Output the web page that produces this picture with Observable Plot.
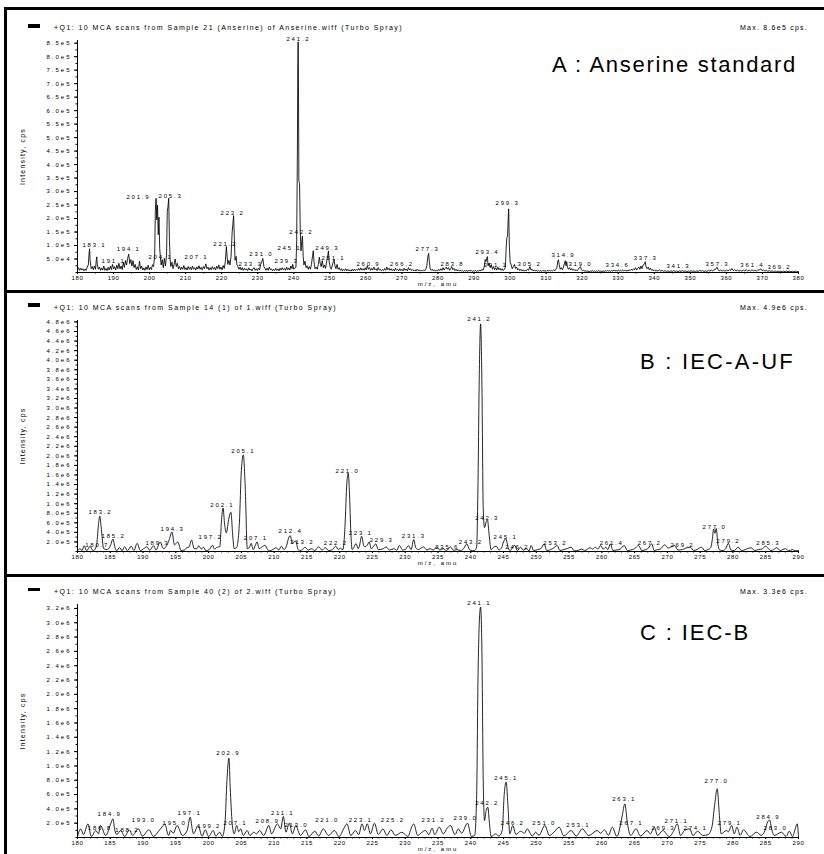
<!DOCTYPE html>
<html>
<head>
<meta charset="utf-8">
<script src="https://cdn.jsdelivr.net/npm/d3@7"></script>
<script src="https://cdn.jsdelivr.net/npm/@observablehq/plot@0.6"></script>
<style>
body{margin:0;background:#fff;}
#wrap{position:relative;width:824px;height:854px;overflow:hidden;font-family:"Liberation Sans",Arial,sans-serif;color:#000;}
.bar{position:absolute;background:#000;}
.hdr{position:absolute;font-size:7px;white-space:nowrap;line-height:7px;}
.max{position:absolute;font-size:7px;white-space:nowrap;line-height:7px;}
.title{position:absolute;font-size:22px;white-space:nowrap;line-height:22px;}
.leg{position:absolute;left:28px;width:12px;height:4px;background:#000;}
.plot{position:absolute;left:0;}
.plot svg g[aria-label="text"] text{letter-spacing:1.8px;}
.plot svg g[aria-description="ylab"] text{letter-spacing:1.2px;}
.plot svg g[aria-description="xlab"] text{letter-spacing:2px;}
.plot svg g[aria-label="y-axis tick label"] text{letter-spacing:2px;}
.plot svg g[aria-label="x-axis tick label"] text{letter-spacing:0.6px;}
</style>
</head>
<body>
<div id="wrap">
  <div class="bar" style="left:4px;top:7px;width:820px;height:3px"></div>
  <div class="bar" style="left:4px;top:7px;width:3px;height:847px"></div>
  <div class="bar" style="left:4px;top:290px;width:820px;height:3px"></div>
  <div class="bar" style="left:4px;top:574px;width:820px;height:3px"></div>

  <div class="leg" style="top:24px"></div>
  <div class="hdr" data-w="349" style="left:54px;top:23.5px">+Q1: 10 MCA scans from Sample 21 (Anserine) of Anserine.wiff (Turbo Spray)</div>
  <div class="max" data-w="68" data-r="808" style="top:23.5px">Max. 8.6e5 cps.</div>
  <div class="title" data-w="245" style="left:552px;top:54px">A : Anserine standard</div>

  <div class="leg" style="top:303px"></div>
  <div class="hdr" data-w="283" style="left:54px;top:303.5px">+Q1: 10 MCA scans from Sample 14 (1) of 1.wiff (Turbo Spray)</div>
  <div class="max" data-w="68" data-r="808" style="top:303.5px">Max. 4.9e6 cps.</div>
  <div class="title" data-w="155" style="left:640px;top:351px">B : IEC-A-UF</div>

  <div class="leg" style="top:588px;height:3px"></div>
  <div class="hdr" data-w="283" style="left:54px;top:587.5px">+Q1: 10 MCA scans from Sample 40 (2) of 2.wiff (Turbo Spray)</div>
  <div class="max" data-w="68" data-r="808" style="top:587.5px">Max. 3.3e6 cps.</div>
  <div class="title" data-w="110" style="left:640px;top:622px">C : IEC-B</div>

  <div class="plot" id="pA" style="top:30px"></div>
  <div class="plot" id="pB" style="top:310px"></div>
  <div class="plot" id="pC" style="top:594px"></div>
</div>
<script>
// ---------- DATA (intensity in thousands of cps) ----------
const xTicksA = [180,190,200,210,220,230,240,250,260,270,280,290,300,310,320,330,340,350,360,370,380];
const xTicksBC = [180,185,190,195,200,205,210,215,220,225,230,235,240,245,250,255,260,265,270,275,280,285,290];
const yTicksA = [50,100,150,200,250,300,350,400,450,500,550,600,650,700,750,800,850];
const yTicksB = [200,400,600,800,1000,1200,1400,1600,1800,2000,2200,2400,2600,2800,3000,3200,3400,3600,3800,4000,4200,4400,4600,4800];
const yTicksC = [200,400,600,800,1000,1200,1400,1600,1800,2000,2200,2400,2600,2800,3000,3200];

const specA = [[180.0,10],[180.3,18],[180.6,8],[180.9,16],[181.2,9],[181.5,14],[181.8,6],[182.1,13],[182.4,8],[182.7,20],[183.0,28],[183.2,70],[183.35,88],[183.5,45],[183.8,14],[184.1,22],[184.4,10],[184.7,24],[185.0,12],[185.2,45],[185.35,58],[185.5,28],[185.8,12],[186.1,20],[186.4,8],[186.7,17],[187.0,9],[187.3,24],[187.6,8],[187.9,15],[188.2,7],[188.5,19],[188.8,9],[189.1,23],[189.4,11],[189.7,30],[190.0,13],[190.3,22],[190.6,9],[190.9,27],[191.2,14],[191.5,34],[191.8,13],[192.1,24],[192.4,11],[192.7,38],[193.0,19],[193.3,44],[193.6,28],[193.9,52],[194.2,68],[194.5,33],[194.8,48],[195.1,24],[195.4,44],[195.7,18],[196.0,30],[196.3,11],[196.6,21],[196.9,9],[197.2,42],[197.5,14],[197.8,24],[198.1,9],[198.4,17],[198.7,8],[199.0,21],[199.3,11],[199.6,27],[199.9,10],[200.2,19],[200.5,11],[200.8,29],[201.1,22],[201.4,60],[201.6,230],[201.8,275],[202.0,195],[202.2,250],[202.4,140],[202.6,205],[202.8,90],[203.0,55],[203.2,28],[203.5,48],[203.8,18],[204.1,52],[204.4,24],[204.7,62],[204.9,225],[205.1,245],[205.3,275],[205.5,120],[205.7,48],[205.9,22],[206.2,38],[206.5,14],[206.8,30],[207.1,50],[207.4,22],[207.7,34],[208.0,14],[208.3,22],[208.6,10],[208.9,20],[209.2,12],[209.5,26],[209.8,11],[210.1,18],[210.4,9],[210.7,22],[211.0,12],[211.3,20],[211.6,10],[211.9,24],[212.2,12],[212.5,18],[212.8,9],[213.1,21],[213.4,13],[213.7,25],[214.0,12],[214.3,19],[214.6,10],[214.9,22],[215.2,14],[215.6,32],[215.9,14],[216.2,20],[216.5,9],[216.8,18],[217.1,10],[217.4,22],[217.7,12],[218.0,19],[218.3,9],[218.6,24],[218.9,14],[219.2,28],[219.5,12],[219.8,20],[220.1,10],[220.4,26],[220.7,15],[221.0,40],[221.3,96],[221.5,60],[221.7,30],[222.0,45],[222.3,28],[222.6,60],[222.9,150],[223.1,180],[223.3,211],[223.5,130],[223.7,45],[224.0,60],[224.2,30],[224.5,22],[224.8,12],[225.1,20],[225.4,9],[225.7,18],[226.0,8],[226.3,16],[226.6,9],[226.9,14],[227.2,7],[227.5,17],[227.8,9],[228.1,13],[228.4,6],[228.7,15],[229.0,18],[229.3,8],[229.6,14],[229.9,7],[230.2,16],[230.5,10],[230.8,30],[231.1,38],[231.4,52],[231.7,22],[232.0,15],[232.3,8],[232.6,16],[232.9,8],[233.2,20],[233.5,10],[233.8,14],[234.1,6],[234.4,12],[234.7,7],[235.0,15],[235.3,8],[235.6,13],[235.9,6],[236.2,16],[236.5,9],[236.8,18],[237.1,10],[237.4,15],[237.7,8],[238.0,20],[238.3,10],[238.6,17],[238.9,9],[239.2,24],[239.5,14],[239.7,30],[240.0,12],[240.3,18],[240.6,20],[240.8,120],[241.0,450],[241.1,760],[241.2,855],[241.3,690],[241.4,340],[241.6,330],[241.8,150],[242.0,80],[242.2,115],[242.4,135],[242.6,60],[242.8,28],[243.1,42],[243.4,18],[243.7,25],[244.0,12],[244.3,22],[244.6,12],[244.9,30],[245.2,62],[245.4,81],[245.6,40],[245.9,14],[246.2,20],[246.5,12],[246.8,30],[247.1,57],[247.3,35],[247.6,22],[247.9,44],[248.2,18],[248.5,28],[248.8,15],[249.1,40],[249.4,60],[249.6,80],[249.8,40],[250.1,20],[250.4,12],[250.7,28],[251.0,42],[251.2,48],[251.4,25],[251.7,14],[252.0,30],[252.3,12],[252.6,18],[252.9,8],[253.2,14],[253.5,6],[253.8,12],[254.1,7],[254.4,14],[254.7,6],[255.0,12],[255.3,6],[255.6,10],[255.9,5],[256.2,12],[256.5,6],[256.8,13],[257.1,7],[257.4,12],[257.7,8],[258.0,15],[258.3,8],[258.6,17],[258.9,9],[259.2,14],[259.5,8],[259.8,18],[260.1,10],[260.4,25],[260.7,12],[261.0,18],[261.3,8],[261.6,15],[261.9,9],[262.2,20],[262.5,10],[262.8,14],[263.1,7],[263.4,18],[263.7,9],[264.0,12],[264.3,6],[264.6,11],[264.9,7],[265.2,15],[265.5,8],[265.8,20],[266.1,10],[266.4,16],[266.7,8],[267.0,14],[267.3,7],[267.6,12],[267.9,6],[268.2,16],[268.5,8],[268.8,12],[269.1,6],[269.4,14],[269.7,7],[270.0,12],[270.3,6],[270.6,16],[270.9,8],[271.2,13],[271.5,6],[271.8,18],[272.1,9],[272.4,14],[272.7,7],[273.0,11],[273.3,6],[273.6,10],[273.9,5],[274.2,12],[274.5,7],[274.8,10],[275.1,5],[275.4,9],[275.7,5],[276.0,10],[276.3,6],[276.6,12],[276.9,25],[277.2,60],[277.4,71],[277.6,40],[277.8,15],[278.1,8],[278.4,12],[278.7,6],[279.0,10],[279.3,5],[279.6,9],[279.9,6],[280.2,12],[280.5,7],[280.8,14],[281.1,8],[281.4,18],[281.7,9],[282.0,15],[282.3,20],[282.6,12],[282.9,18],[283.2,8],[283.5,14],[283.8,22],[284.1,10],[284.4,15],[284.7,7],[285.0,12],[285.3,6],[285.6,10],[285.9,5],[286.2,9],[286.5,5],[286.8,8],[287.1,4],[287.4,8],[287.7,5],[288.0,7],[288.3,4],[288.6,9],[288.9,5],[289.2,8],[289.5,4],[289.8,7],[290.1,5],[290.4,8],[290.7,4],[291.0,7],[291.3,5],[291.6,9],[291.9,6],[292.2,12],[292.5,8],[292.8,20],[293.1,48],[293.3,40],[293.5,52],[293.7,59],[293.9,25],[294.2,35],[294.5,18],[294.8,28],[295.1,12],[295.4,22],[295.7,10],[296.0,18],[296.3,9],[296.6,20],[296.9,10],[297.2,16],[297.5,8],[297.8,14],[298.1,7],[298.4,12],[298.7,20],[298.9,90],[299.1,130],[299.3,135],[299.5,210],[299.6,236],[299.8,95],[300.0,40],[300.3,28],[300.6,14],[300.9,22],[301.2,30],[301.5,15],[301.8,20],[302.1,9],[302.4,14],[302.7,7],[303.0,12],[303.3,6],[303.6,10],[303.9,5],[304.2,9],[304.5,6],[304.8,12],[305.1,8],[305.5,22],[305.8,9],[306.1,12],[306.4,6],[306.7,10],[307.0,5],[307.3,9],[307.6,4],[307.9,8],[308.2,5],[308.5,7],[308.8,4],[309.1,8],[309.4,5],[309.7,7],[310.0,4],[310.3,8],[310.6,5],[310.9,9],[311.2,5],[311.5,8],[311.8,6],[312.1,10],[312.4,6],[312.7,12],[313.0,20],[313.2,40],[313.4,47],[313.6,30],[313.9,12],[314.2,18],[314.5,10],[314.8,20],[315.1,35],[315.3,44],[315.5,25],[315.7,40],[315.9,20],[316.2,12],[316.5,18],[316.8,9],[317.1,15],[317.4,8],[317.7,12],[318.0,7],[318.3,10],[318.6,6],[318.9,12],[319.2,18],[319.5,22],[319.8,10],[320.1,6],[320.4,9],[320.7,4],[321.0,7],[321.3,4],[321.6,6],[321.9,3],[322.2,6],[322.5,4],[322.8,7],[323.1,4],[323.4,6],[323.7,3],[324.0,6],[324.3,4],[324.6,7],[324.9,4],[325.2,6],[325.5,3],[325.8,6],[326.1,4],[326.4,7],[326.7,4],[327.0,8],[327.3,5],[327.6,7],[327.9,4],[328.2,8],[328.5,5],[328.8,9],[329.1,5],[329.4,8],[329.7,5],[330.0,9],[330.3,6],[330.6,8],[330.9,5],[331.2,10],[331.5,6],[331.8,9],[332.1,5],[332.4,8],[332.7,6],[333.0,10],[333.3,7],[333.6,12],[333.9,8],[334.2,14],[334.5,10],[334.8,18],[335.1,9],[335.4,15],[335.7,20],[336.0,12],[336.3,24],[336.6,14],[336.9,28],[337.2,30],[337.5,40],[337.7,22],[338.0,14],[338.3,20],[338.6,10],[338.9,16],[339.2,8],[339.5,12],[339.8,6],[340.1,10],[340.4,5],[340.7,8],[341.0,5],[341.4,10],[341.8,5],[342.2,8],[342.6,4],[343.0,7],[343.4,4],[343.8,6],[344.2,3],[344.6,6],[345.0,4],[345.4,7],[345.8,4],[346.2,6],[346.6,3],[347.0,6],[347.4,4],[347.8,7],[348.2,4],[348.6,6],[349.0,3],[349.4,6],[349.8,4],[350.2,7],[350.6,4],[351.0,6],[351.4,3],[351.8,6],[352.2,4],[352.6,8],[353.0,5],[353.4,7],[353.8,4],[354.2,6],[354.6,4],[355.0,8],[355.4,5],[355.8,9],[356.2,6],[356.6,10],[357.0,12],[357.4,20],[357.7,10],[358.0,6],[358.4,9],[358.8,5],[359.2,8],[359.6,5],[360.0,9],[360.4,6],[360.8,10],[361.2,8],[361.5,15],[361.9,7],[362.3,10],[362.7,6],[363.1,9],[363.5,5],[363.9,8],[364.3,5],[364.7,9],[365.1,6],[365.5,10],[365.9,6],[366.3,9],[366.7,5],[367.1,10],[367.5,6],[367.9,9],[368.3,5],[368.7,10],[369.1,8],[369.5,14],[369.9,7],[370.3,9],[370.7,5],[371.1,8],[371.5,4],[371.9,7],[372.3,4],[372.7,6],[373.1,3],[373.5,6],[373.9,3],[374.3,5],[374.7,3],[375.1,5],[375.5,3],[375.9,5],[376.3,3],[376.7,5],[377.1,3],[377.5,5],[377.9,3],[378.3,5],[378.7,3],[379.1,5],[379.5,3],[380.0,4]];

const specB = [[180.0,15],[180.4,60],[180.7,20],[181.0,120],[181.4,15],[181.9,105],[182.4,15],[182.9,120],[183.2,560],[183.4,740],[183.6,520],[184.0,60],[184.5,40],[185.0,110],[185.4,260],[185.7,90],[186.0,15],[186.4,85],[186.8,15],[187.2,100],[187.6,15],[188.2,110],[188.6,20],[189.1,170],[189.6,20],[190.1,60],[190.6,100],[191.0,25],[191.6,120],[192.0,30],[192.6,200],[193.1,60],[193.5,100],[194.0,250],[194.4,410],[194.8,140],[195.3,200],[195.8,20],[196.3,30],[196.7,80],[197.0,90],[197.4,240],[197.8,60],[198.2,60],[198.5,120],[198.9,50],[199.2,90],[199.6,15],[200.1,40],[200.6,130],[200.9,50],[201.3,90],[201.7,100],[202.0,700],[202.2,910],[202.45,560],[202.7,390],[203.1,700],[203.4,820],[203.7,300],[203.9,60],[204.3,90],[204.7,600],[205.0,1700],[205.3,2020],[205.6,1300],[205.9,60],[206.2,80],[206.5,170],[206.8,40],[207.1,120],[207.4,200],[207.7,60],[208.1,90],[208.6,130],[209.0,40],[209.3,15],[209.8,40],[210.3,80],[210.7,30],[211.1,110],[211.5,40],[211.9,120],[212.2,280],[212.45,330],[212.8,170],[213.0,190],[213.3,220],[213.6,60],[213.9,15],[214.3,40],[214.7,90],[215.2,30],[215.7,60],[216.2,20],[216.8,100],[217.3,30],[217.8,80],[218.3,20],[218.9,40],[219.4,110],[219.8,40],[220.1,70],[220.5,40],[220.8,500],[221.1,1450],[221.3,1640],[221.5,1200],[221.7,400],[221.9,40],[222.2,100],[222.5,165],[222.8,60],[223.0,110],[223.35,320],[223.7,110],[223.9,100],[224.2,130],[224.5,200],[224.8,60],[225.1,90],[225.5,160],[225.9,40],[226.5,50],[227.1,95],[227.6,30],[228.3,60],[228.7,25],[229.1,125],[229.6,30],[230.0,40],[230.5,120],[230.9,40],[231.3,250],[231.6,80],[232.0,40],[232.4,70],[232.8,95],[233.3,30],[233.8,60],[234.3,30],[234.8,100],[235.3,30],[235.8,60],[236.3,20],[236.9,95],[237.4,25],[237.9,40],[238.4,20],[238.9,60],[239.4,160],[239.8,40],[240.2,15],[240.6,20],[240.9,100],[241.1,1400],[241.3,3700],[241.5,4760],[241.7,3500],[241.9,900],[242.1,500],[242.35,620],[242.55,660],[242.8,350],[243.1,40],[243.5,90],[243.9,110],[244.3,30],[244.7,80],[245.0,200],[245.35,270],[245.7,80],[246.0,20],[246.4,90],[246.7,130],[247.1,20],[247.6,90],[248.0,30],[248.5,60],[248.9,15],[249.2,125],[249.6,20],[250.2,40],[250.7,60],[251.2,160],[251.6,20],[252.2,40],[252.7,80],[253.2,125],[253.6,20],[254.2,40],[254.7,60],[255.3,90],[255.8,15],[256.4,25],[256.9,50],[257.4,20],[257.8,50],[258.2,80],[258.6,50],[259.0,90],[259.4,50],[259.8,125],[260.2,50],[260.6,90],[260.9,40],[261.3,160],[261.7,20],[262.2,30],[262.8,50],[263.4,125],[263.9,20],[264.4,30],[265.0,60],[265.6,125],[266.1,20],[266.7,40],[267.1,70],[267.6,160],[268.0,20],[268.5,40],[268.9,50],[269.6,140],[270.1,70],[270.6,100],[271.1,125],[271.6,30],[272.3,40],[272.8,70],[273.5,90],[274.0,20],[274.5,40],[275.2,90],[275.7,20],[276.2,40],[276.6,80],[276.85,250],[277.05,470],[277.25,380],[277.45,480],[277.7,150],[278.0,30],[278.5,20],[278.9,60],[279.3,170],[279.7,30],[280.2,20],[280.8,90],[281.3,20],[281.9,40],[282.4,70],[282.8,77],[283.3,20],[283.9,40],[284.4,50],[285.0,110],[285.4,60],[285.8,20],[286.2,40],[286.7,80],[287.2,20],[287.6,40],[288.0,60],[288.5,15],[289.1,40],[289.5,15],[290.0,20]];

const specC = [[180.0,14],[180.5,120],[180.9,40],[181.6,190],[182.1,14],[182.8,98],[183.2,50],[183.5,168],[184.3,28],[185.1,200],[185.4,261],[185.7,100],[186.0,42],[186.6,98],[187.2,14],[187.9,107],[188.4,30],[189.3,121],[189.9,20],[190.9,107],[191.6,14],[192.3,80],[193.0,160],[193.3,191],[193.9,28],[194.2,98],[194.6,60],[195.2,168],[196.0,28],[196.7,90],[197.2,284],[197.5,120],[197.7,51],[198.4,168],[199.0,20],[199.5,107],[200.0,14],[200.7,98],[201.1,20],[201.7,74],[202.1,14],[202.5,200],[202.8,800],[203.1,1108],[203.3,700],[203.6,200],[203.9,51],[204.3,168],[204.6,80],[204.9,121],[205.3,28],[205.9,98],[206.3,28],[206.9,74],[207.3,50],[207.8,98],[208.4,28],[209.2,168],[209.6,51],[210.5,191],[211.0,120],[211.4,293],[211.8,74],[212.3,200],[212.8,51],[213.3,168],[214.0,28],[214.8,107],[215.3,14],[216.2,88],[216.8,20],[217.5,121],[218.3,28],[219.2,98],[219.9,14],[220.6,120],[221.1,191],[221.7,28],[222.4,98],[222.9,40],[223.4,191],[223.8,98],[224.2,191],[224.7,51],[225.3,200],[225.9,42],[226.6,121],[227.2,28],[227.8,107],[228.5,30],[229.5,74],[230.4,14],[231.0,150],[231.3,191],[231.9,28],[232.5,70],[233.1,98],[233.6,40],[234.1,130],[234.5,40],[235.2,145],[235.8,51],[236.4,130],[236.9,168],[237.6,40],[238.1,121],[238.6,60],[239.5,200],[240.1,14],[240.6,30],[240.9,600],[241.1,2200],[241.3,3000],[241.5,3220],[241.7,2600],[241.9,800],[242.1,237],[242.35,380],[242.6,423],[242.85,200],[243.1,14],[243.8,51],[244.3,20],[244.8,100],[245.1,600],[245.4,773],[245.7,400],[245.95,51],[246.4,168],[246.9,42],[247.6,88],[248.2,60],[248.6,121],[249.4,20],[249.9,74],[250.4,30],[251.3,168],[252.0,28],[252.7,74],[253.5,144],[254.2,20],[255.3,98],[256.1,20],[257.0,121],[258.0,28],[259.3,98],[259.8,60],[260.4,107],[261.0,30],[261.6,144],[262.3,14],[263.1,300],[263.5,470],[263.9,200],[264.4,28],[265.2,121],[265.9,20],[266.9,98],[267.4,51],[268.0,144],[268.5,28],[269.3,98],[270.3,14],[271.0,100],[271.5,191],[272.0,28],[272.6,98],[273.4,121],[273.9,28],[274.6,88],[275.4,28],[276.2,40],[276.8,150],[277.2,450],[277.6,680],[277.9,350],[278.2,51],[279.0,98],[279.3,80],[279.8,168],[280.2,51],[280.6,144],[281.1,30],[281.6,107],[282.6,14],[283.6,74],[284.3,30],[284.9,100],[285.3,220],[285.6,245],[285.9,120],[286.3,28],[287.4,74],[288.1,14],[288.6,88],[289.1,14],[289.5,120],[289.8,191],[290.0,14]];

// peak labels: [text, m/z of label centre, intensity of label centre]
const labelsA = [["183.1",184.7,100],["191.1",190.0,44],["194.1",194.2,85],["201.9",196.9,278],["205.3",205.8,285],["204.1",203.0,59],["207.1",213.0,59],["221.2",221.0,104],["223.2",223.0,222],["233.3",228.0,33],["231.0",231.0,70],["239.3",238.0,41],["241.2",241.3,865],["242.2",242.1,148],["245.1",238.8,89],["249.3",249.3,89],["251.1",251.0,52],["260.9",260.7,33],["266.2",270.0,33],["277.3",277.1,85],["283.8",284.0,30],["293.4",293.7,74],["299.3",299.3,259],["301.1",296.0,26],["305.2",305.4,33],["314.9",314.8,63],["319.0",319.5,30],["334.6",329.8,26],["337.3",337.6,52],["341.3",346.7,22],["357.3",357.5,33],["361.4",367.2,26],["369.2",374.7,19]];
const labelsB = [["183.2",183.5,815],["185.2",185.5,314],["180.7",183.0,125],["189.3",192.2,167],["194.3",194.5,460],["197.2",200.3,293],["202.1",202.1,961],["205.1",205.3,2090],["207.1",207.2,272],["212.4",212.5,418],["213.2",214.3,188],["221.0",221.2,1672],["222.2",219.4,167],["223.1",223.2,376],["229.3",226.4,230],["231.3",231.3,314],["235.6",236.4,84],["241.2",241.3,4870],["242.3",242.5,690],["243.2",240.0,188],["245.1",245.3,293],["246.2",247.1,84],["253.2",252.9,167],["261.4",261.5,167],["267.2",267.3,167],["269.2",272.3,125],["277.0",277.2,502],["279.2",279.3,209],["285.3",285.4,167]];
const labelsC = [["184.9",184.9,321],["186.8",183.4,126],["188.2",187.6,98],["193.0",190.1,237],["195.0",194.8,196],["197.1",197.1,335],["199.2",200.1,154],["202.9",203.0,1173],["207.1",204.1,196],["208.9",209.0,224],["211.1",211.3,335],["213.0",213.4,168],["221.0",218.1,237],["223.1",223.2,237],["225.2",228.1,237],["231.2",234.3,237],["239.0",239.2,265],["241.1",241.3,3269],["242.2",242.5,475],["245.1",245.4,824],["246.2",246.4,196],["251.0",251.2,196],["253.1",256.4,168],["263.1",263.4,531],["267.1",264.5,196],["269.3",269.4,126],["271.1",271.4,224],["274.1",274.3,126],["277.0",277.5,782],["279.1",279.5,196],["284.9",285.4,279],["283.0",286.5,126]];

// ---------- DRAWING ----------
const fmtE = v => d3.format(".1e")(v * 1000).replace("+", "");
const FONT = '"Liberation Sans", Arial, sans-serif';

function panel({spec, labels, xDomain, xTicks, xMinorStep, yMax, yTicks, yMinorStep, curve, height, mt, mb}) {
  const yMinor = d3.range(0, yMax, yMinorStep);
  const xMinor = d3.range(xDomain[0], xDomain[1] + 0.001, xMinorStep);
  return Plot.plot({
    width: 824, height,
    marginLeft: 77, marginRight: 26, marginTop: mt, marginBottom: mb,
    style: {background: "transparent", overflow: "visible", fontFamily: FONT, color: "black"},
    x: {domain: xDomain},
    y: {domain: [0, yMax]},
    marks: [
      Plot.axisY({ticks: yMinor, tickSize: 1.5, tickFormat: () => "", label: null}),
      Plot.axisY({ticks: yTicks, tickSize: 3, tickPadding: 3, tickFormat: fmtE, fontSize: 6, label: null}),
      Plot.axisX({ticks: xMinor, tickSize: 1.5, tickFormat: () => "", label: null}),
      Plot.axisX({ticks: xTicks, tickSize: 2, tickPadding: 1, tickFormat: d => String(d), fontSize: 6, label: null}),
      Plot.ruleX([xDomain[0]], {stroke: "black", strokeWidth: 1}),
      Plot.ruleY([0], {stroke: "black", strokeWidth: 1}),
      Plot.lineY(spec, {x: d => d[0], y: d => d[1], stroke: "black", strokeWidth: 0.85, curve}),
      Plot.text(labels, {x: d => d[1], y: d => d[2], text: d => d[0], fontSize: 6, fill: "black"}),
      Plot.text(["m/z, amu"], {text: d => d, frameAnchor: "bottom", dy: 13, fontSize: 6, fill: "black", ariaDescription: "xlab"}),
      Plot.text(["Intensity, cps"], {text: d => d, frameAnchor: "left", textAnchor: "middle", dx: -55, rotate: -90, fontSize: 7, fill: "black", ariaDescription: "ylab"})
    ]
  });
}

document.getElementById("pA").append(panel({
  spec: specA, labels: labelsA, xDomain: [180, 380], xTicks: xTicksA, xMinorStep: 5,
  yMax: 860, yTicks: yTicksA, yMinorStep: 25, curve: "linear", height: 258, mt: 10, mb: 16
}));
document.getElementById("pB").append(panel({
  spec: specB, labels: labelsB, xDomain: [180, 290], xTicks: xTicksBC, xMinorStep: 1,
  yMax: 4830, yTicks: yTicksB, yMinorStep: 100, curve: "monotone-x", height: 262, mt: 10, mb: 21
}));
document.getElementById("pC").append(panel({
  spec: specC, labels: labelsC, xDomain: [180, 290], xTicks: xTicksBC, xMinorStep: 1,
  yMax: 3255, yTicks: yTicksC, yMinorStep: 100, curve: "monotone-x", height: 260, mt: 10, mb: 17
}));

// fit the header / title texts to the widths they have in the reference
document.querySelectorAll("[data-w]").forEach(el => {
  el.style.letterSpacing = "0px";
  const w = el.getBoundingClientRect().width;
  const n = el.textContent.length;
  el.style.letterSpacing = ((+el.dataset.w - w) / n) + "px";
  if (el.dataset.r) {
    const w2 = el.getBoundingClientRect().width;
    el.style.left = (+el.dataset.r - w2) + "px";
  }
});
</script>
</body>
</html>
